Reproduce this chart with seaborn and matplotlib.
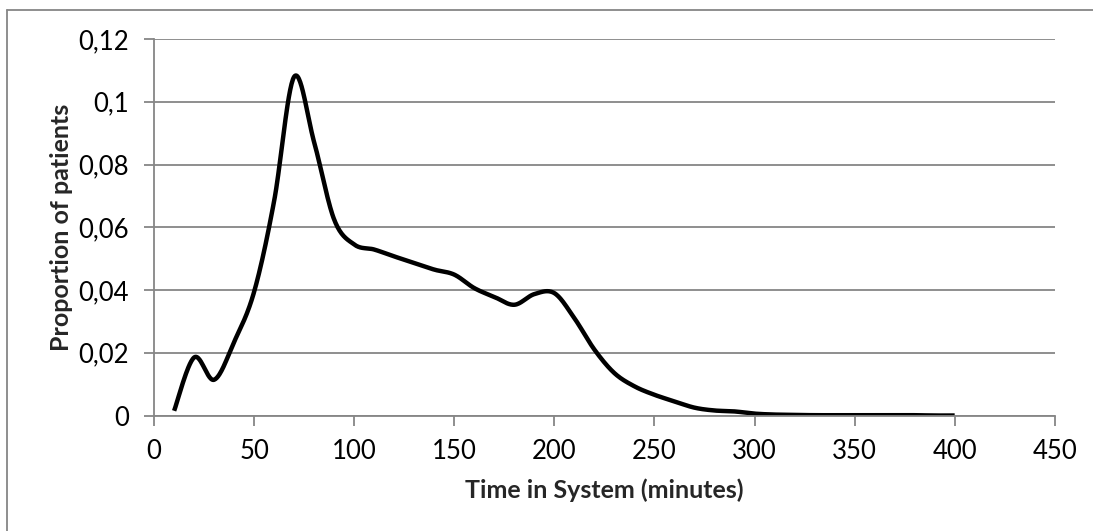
import numpy as np
import pandas as pd
import matplotlib
matplotlib.use("Agg")
import matplotlib.pyplot as plt
from matplotlib.lines import Line2D
import seaborn as sns

# Time in system (minutes) and share of patients in each 10-minute bin
minutes = [10, 20, 30, 40, 50, 60, 70, 80, 90, 100,
           110, 120, 130, 140, 150, 160, 170, 180, 190, 200,
           210, 220, 230, 240, 250, 260, 270, 280, 290, 300,
           310, 320, 330, 340, 350, 360, 370, 380, 390, 400]
proportion = [0.0015, 0.0185, 0.0114, 0.0235, 0.0395, 0.0685, 0.108, 0.087, 0.0624, 0.0545,
              0.0529, 0.0507, 0.0486, 0.0465, 0.0449, 0.0406, 0.0378, 0.0353, 0.0387, 0.0390,
              0.0310, 0.0210, 0.0135, 0.0093, 0.0066, 0.0045, 0.0025, 0.0016, 0.0013, 0.0006,
              0.0003, 0.0002, 0.0001, 0.0001, 0.0001, 0.0001, 0.0001, 0.0001, 0.0000, 0.0000]

x_ticks = [0, 50, 100, 150, 200, 250, 300, 350, 400, 450]
y_ticks = [0, 0.02, 0.04, 0.06, 0.08, 0.1, 0.12]
y_tick_labels = ["0", "0,02", "0,04", "0,06", "0,08", "0,1", "0,12"]
x_title = "Time in System (minutes)"
y_title = "Proportion of patients"


def smooth_curve(xs, ys, n=30):
    """Catmull-Rom style cubic Bezier smoothing through every point."""
    xs = np.asarray(xs, float)
    ys = np.asarray(ys, float)
    px = np.concatenate([[xs[0]], xs, [xs[-1]]])
    py = np.concatenate([[ys[0]], ys, [ys[-1]]])
    out_x, out_y = [], []
    t = np.linspace(0, 1, n, endpoint=False)
    for i in range(1, len(px) - 2):
        p0 = np.array([px[i], py[i]])
        p3 = np.array([px[i + 1], py[i + 1]])
        c1 = p0 + (np.array([px[i + 1], py[i + 1]]) - np.array([px[i - 1], py[i - 1]])) / 6
        c2 = p3 - (np.array([px[i + 2], py[i + 2]]) - np.array([px[i], py[i]])) / 6
        b = ((1 - t) ** 3)[:, None] * p0 + (3 * (1 - t) ** 2 * t)[:, None] * c1 \
            + (3 * (1 - t) * t ** 2)[:, None] * c2 + (t ** 3)[:, None] * p3
        out_x.extend(b[:, 0])
        out_y.extend(b[:, 1])
    out_x.append(xs[-1])
    out_y.append(ys[-1])
    return np.array(out_x), np.array(out_y)


sx, sy = smooth_curve(minutes, proportion)
curve = pd.DataFrame({"minutes": sx, "proportion": sy})

sns.set_theme(style="white")
plt.rcParams["font.family"] = ["Lato", "DejaVu Sans"]

grid_color = "#868686"
fig = plt.figure(figsize=(10.93, 5.31), dpi=100)
ax = fig.add_axes([0.141, 0.2175, 0.824, 0.709])

sns.lineplot(data=curve, x="minutes", y="proportion", ax=ax, color="black",
             linewidth=3.2, sort=False, estimator=None, solid_capstyle="butt")

ax.set_xlim(0, 450)
ax.set_ylim(0, 0.12)
ax.set_xticks(x_ticks)
ax.set_xticklabels([str(v) for v in x_ticks])
ax.set_yticks(y_ticks)
ax.set_yticklabels(y_tick_labels)
ax.yaxis.grid(True, color=grid_color, linewidth=1.3)
ax.xaxis.grid(False)
ax.set_axisbelow(True)

for side in ["top", "right"]:
    ax.spines[side].set_visible(False)
for side in ["left", "bottom"]:
    ax.spines[side].set_color(grid_color)
    ax.spines[side].set_linewidth(1.3)

ax.tick_params(axis="both", which="major", length=7, width=1.3, color=grid_color,
               labelsize=18.5, labelcolor="black", direction="out")
ax.tick_params(axis="x", pad=10, bottom=True)
ax.tick_params(axis="y", pad=11, left=True)

ax.set_xlabel(x_title, fontsize=18, fontweight="bold", labelpad=10)
ax.set_ylabel(y_title, fontsize=18, fontweight="bold", labelpad=4)

# Chart-area frame along the top and left edges
fig.add_artist(Line2D([7 / 1093, 7 / 1093], [0, 1 - 9.5 / 531], transform=fig.transFigure,
                      color=grid_color, linewidth=1.3))
fig.add_artist(Line2D([7 / 1093, 1], [1 - 9.5 / 531, 1 - 9.5 / 531], transform=fig.transFigure,
                      color=grid_color, linewidth=1.3))

fig.savefig("out.png", dpi=100, facecolor="white")
